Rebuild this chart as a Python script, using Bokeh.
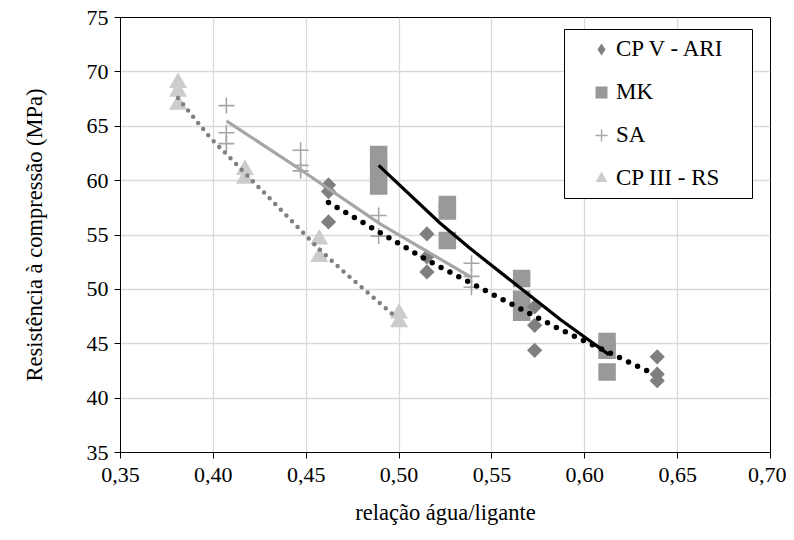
import math
from bokeh.plotting import figure
from bokeh.models import (Legend, LegendItem, FixedTicker, BoxAnnotation,
                          CustomJSTickFormatter, Range1d)
from bokeh.embed import file_html
from bokeh.resources import INLINE

# ---- data ----
cpv_x = [0.462, 0.462, 0.462, 0.515, 0.515, 0.515, 0.573, 0.573, 0.573, 0.639, 0.639, 0.639]
cpv_y = [59.6, 59.0, 56.2, 55.1, 53.0, 51.6, 48.4, 46.7, 44.4, 43.8, 42.2, 41.6]

mk_x = [0.489, 0.489, 0.489, 0.526, 0.526, 0.526, 0.566, 0.566, 0.566, 0.612, 0.612, 0.612]
mk_y = [62.4, 61.0, 59.5, 57.8, 57.2, 54.5, 51.0, 49.1, 47.9, 45.2, 44.4, 42.4]

sa_x = [0.407, 0.407, 0.407, 0.447, 0.447, 0.447, 0.489, 0.489, 0.539, 0.539, 0.539]
sa_y = [66.9, 64.4, 63.4, 62.8, 61.4, 60.9, 56.8, 54.9, 52.4, 51.2, 50.2]

rs_x = [0.381, 0.381, 0.381, 0.417, 0.417, 0.457, 0.457, 0.500, 0.500]
rs_y = [69.0, 68.2, 67.0, 61.0, 60.2, 54.6, 53.0, 47.8, 47.0]

# trend lines
cpv_fit_x = [0.462, 0.515, 0.543, 0.587, 0.635]
cpv_fit_y = [58.0, 52.7, 50.2, 46.3, 42.4]
mk_fit_x = [0.489, 0.522, 0.538, 0.587, 0.613]
mk_fit_y = [61.4, 56.1, 53.8, 47.2, 44.0]
sa_fit_x = [0.407, 0.447, 0.490, 0.539]
sa_fit_y = [65.5, 61.0, 56.0, 51.1]
rs_fit_x = [0.381, 0.398, 0.417, 0.457, 0.471, 0.498]
rs_fit_y = [67.6, 64.0, 60.7, 53.7, 51.5, 47.5]

x_ticks = [0.35, 0.40, 0.45, 0.50, 0.55, 0.60, 0.65, 0.70]
y_ticks = [35, 40, 45, 50, 55, 60, 65, 70, 75]

labels = ["CP V - ARI", "MK", "SA", "CP III - RS"]
x_title = "relação água/ligante"
y_title = "Resistência à compressão (MPa)"

FONT = "Liberation Serif"

p = figure(width=786, height=532, output_backend="svg", toolbar_location=None,
           x_range=Range1d(0.35, 0.70), y_range=Range1d(35, 75),
           min_border_left=120, min_border_right=16, min_border_top=17,
           min_border_bottom=80, frame_width=650, frame_height=435)
p.background_fill_color = "white"
p.border_fill_color = "white"
p.outline_line_color = "black"
p.outline_line_width = 1

for ax in (p.xaxis[0], p.yaxis[0]):
    ax.axis_line_color = "black"
    ax.axis_line_width = 1
    ax.major_tick_line_color = "black"
    ax.major_tick_in = 0
    ax.major_tick_out = 6
    ax.minor_tick_line_color = None
    ax.major_label_text_font = FONT
    ax.major_label_text_font_size = "22px"
    ax.major_label_text_color = "black"
    ax.axis_label_text_font = FONT
    ax.axis_label_text_font_size = "22.5px"
    ax.axis_label_text_font_style = "normal"
    ax.axis_label_text_color = "black"

p.xaxis.ticker = FixedTicker(ticks=x_ticks)
p.yaxis.ticker = FixedTicker(ticks=y_ticks)
p.xaxis.formatter = CustomJSTickFormatter(code="return tick.toFixed(2).replace('.', ',');")
p.yaxis.formatter = CustomJSTickFormatter(code="return tick.toFixed(0);")
p.xaxis.axis_label = x_title
p.yaxis.axis_label = y_title
p.xaxis.major_label_standoff = 9
p.yaxis.major_label_standoff = 6
p.xaxis.axis_label_standoff = 15
p.yaxis.axis_label_standoff = 37

p.xgrid.grid_line_color = "#d9d9d9"
p.ygrid.grid_line_color = "#d9d9d9"
p.xgrid.grid_line_width = 1.3
p.ygrid.grid_line_width = 1.3

# markers
r_rs = p.scatter(rs_x, rs_y, marker="triangle", size=18, fill_color="#cccccc",
                 line_color=None)
r_sa = p.scatter(sa_x, sa_y, marker="cross", size=16, line_color="#a6a6a6",
                 line_width=1.6)
r_mk = p.scatter(mk_x, mk_y, marker="square", size=17.5, fill_color="#999999",
                 line_color=None)
r_cpv = p.scatter(cpv_x, cpv_y, marker="square", size=10.8, angle=math.pi / 4,
                  fill_color="#7f7f7f", line_color=None)

# trend lines
p.line(rs_fit_x, rs_fit_y, line_color="#808080", line_width=4.5,
       line_dash="0 8", line_cap="round")
p.line(sa_fit_x, sa_fit_y, line_color="#a6a6a6", line_width=3.2)
p.line(mk_fit_x, mk_fit_y, line_color="black", line_width=3.2)
p.line(cpv_fit_x, cpv_fit_y, line_color="black", line_width=5.5,
       line_dash="0 10", line_cap="round")

# legend frame (screen units, relative to the plot frame)
box = BoxAnnotation(left=444, right=632, bottom=254, top=423,
                    left_units="screen", right_units="screen",
                    bottom_units="screen", top_units="screen",
                    fill_color="white", fill_alpha=1.0,
                    line_color="black", line_alpha=1.0, line_width=1)
p.add_layout(box)

# legend proxies
leg_cpv = p.scatter(cpv_x[:1], cpv_y[:1], marker="diamond", size=13,
                    fill_color="#7f7f7f", line_color=None, visible=False)
leg_mk = p.scatter(mk_x[:1], mk_y[:1], marker="square", size=12,
                   fill_color="#999999", line_color=None, visible=False)
leg_sa = p.scatter(sa_x[:1], sa_y[:1], marker="cross", size=12,
                   line_color="#a6a6a6", line_width=1.3, visible=False)
leg_rs = p.scatter(rs_x[:1], rs_y[:1], marker="triangle", size=12,
                   fill_color="#cccccc", line_color=None, visible=False)

legend = Legend(items=[LegendItem(label=labels[0], renderers=[leg_cpv]),
                       LegendItem(label=labels[1], renderers=[leg_mk]),
                       LegendItem(label=labels[2], renderers=[leg_sa]),
                       LegendItem(label=labels[3], renderers=[leg_rs])],
                location=(466, 259))
legend.glyph_width = 30
legend.glyph_height = 30
legend.label_height = 30
legend.spacing = 13
legend.padding = 0
legend.margin = 0
legend.label_standoff = 0
legend.label_text_font = FONT
legend.label_text_font_size = "23px"
legend.label_text_color = "black"
legend.border_line_color = None
legend.background_fill_alpha = 0
p.add_layout(legend, "center")

open("out.html", "w").write(file_html(p, INLINE))
